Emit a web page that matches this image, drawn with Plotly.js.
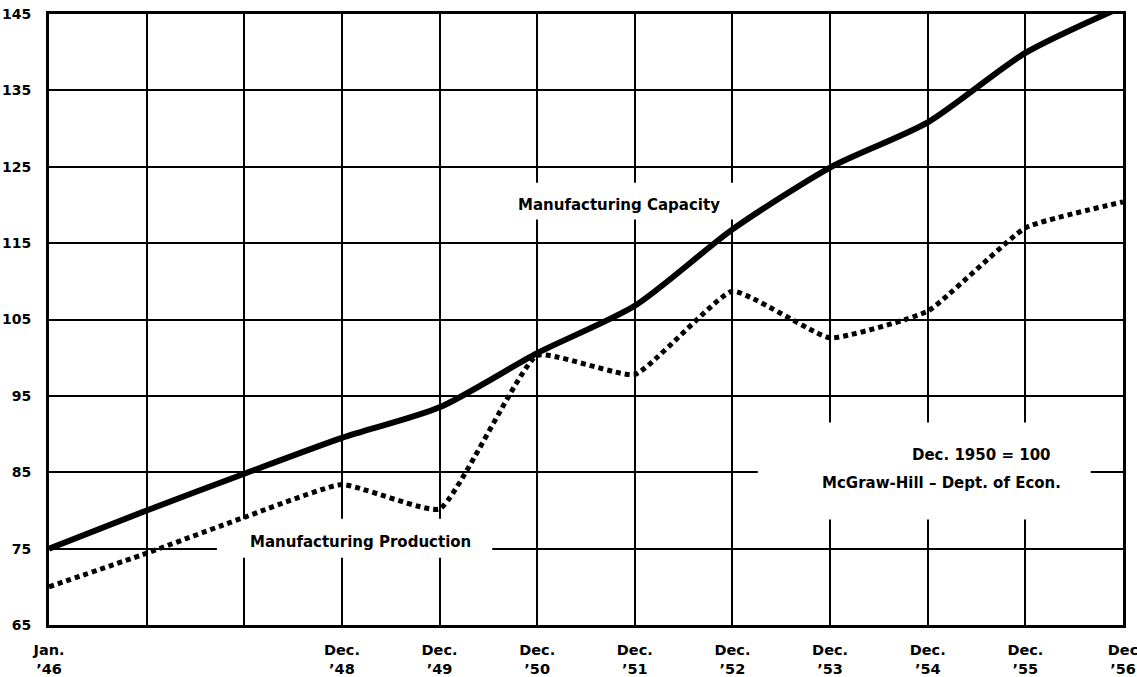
<!DOCTYPE html>
<html>
<head>
<meta charset="utf-8">
<script src="https://cdn.plot.ly/plotly-3.0.1.min.js"></script>
<style>html,body{margin:0;padding:0;background:#fff;}#chart{width:1137px;height:677px;}</style>
</head>
<body>
<div id="chart"></div>
<script>
// x positions: 0 = Jan. '46, then year-end points Dec '46 ... Dec '56
var xPos = [0, 1, 2, 3, 4, 5, 6, 7, 8, 9, 10, 11];
var capacity = [75, 80, 84.8, 89.5, 93.5, 100.6, 106.8, 116.8, 124.9, 130.8, 139.9, 146];
var production = [70, 74.4, 79.1, 83.4, 80.2, 100.3, 97.8, 108.7, 102.6, 106.1, 117, 120.4];

var tickVals = [0, 1, 2, 3, 4, 5, 6, 7, 8, 9, 10, 11];
var tickText = ["Jan.<br>\u201946", "", "", "Dec.<br>\u201948", "Dec.<br>\u201949", "Dec.<br>\u201950",
  "Dec.<br>\u201951", "Dec.<br>\u201952", "Dec.<br>\u201953", "Dec.<br>\u201954", "Dec.<br>\u201955", "Dec<br>\u201956"];
var yTicks = [65, 75, 85, 95, 105, 115, 125, 135, 145];

var labelCapacity = "Manufacturing Capacity";
var labelProduction = "Manufacturing Production";
var noteBase = "Dec. 1950 = 100";
var noteSource = "McGraw-Hill \u2013 Dept. of Econ.";

var FONT = "'DejaVu Sans', sans-serif";

var traces = [
  {x: xPos, y: capacity, type: "scatter", mode: "lines",
   line: {color: "#000", width: 6, shape: "spline", smoothing: 0.7}, hoverinfo: "skip"},
  {x: xPos, y: production, type: "scatter", mode: "lines",
   line: {color: "#000", width: 5, dash: "5px,4px", shape: "spline", smoothing: 0.4}, hoverinfo: "skip"}
];

var whiteBox = function (x0, x1, y0, y1) {
  return {type: "rect", xref: "x", yref: "y", x0: x0, x1: x1, y0: y0, y1: y1,
    fillcolor: "#fff", line: {width: 0}, layer: "between"};
};

var layout = {
  width: 1137, height: 677,
  margin: {l: 49, r: 14, t: 14, b: 52},
  paper_bgcolor: "#fff", plot_bgcolor: "#fff",
  showlegend: false,
  font: {family: FONT, color: "#000", size: 14, weight: "bold"},
  xaxis: {
    range: [0, 11], tickmode: "array", tickvals: tickVals, ticktext: tickText,
    showgrid: true, gridcolor: "#000", gridwidth: 2,
    showline: true, linecolor: "#000", linewidth: 3, mirror: true,
    zeroline: false, ticks: "", ticklabelstandoff: 10, ticklabeloverflow: "allow",
    tickfont: {family: FONT, size: 14.5, weight: "bold", color: "#000"}
  },
  yaxis: {
    range: [65, 145], tickmode: "array", tickvals: yTicks,
    showgrid: true, gridcolor: "#000", gridwidth: 2,
    showline: true, linecolor: "#000", linewidth: 3, mirror: true,
    zeroline: false, ticks: "", ticklabelstandoff: 12,
    tickfont: {family: FONT, size: 14, weight: "bold", color: "#000"}
  },
  shapes: [
    whiteBox(4.62, 7.08, 118.1, 122.9),
    whiteBox(1.72, 4.54, 73.8, 78.9),
    whiteBox(7.26, 10.67, 78.8, 91.5)
  ],
  annotations: [
    {x: 5.835, y: 120.05, xref: "x", yref: "y", text: labelCapacity, showarrow: false,
     xanchor: "center", yanchor: "middle", font: {family: FONT, size: 15, weight: "bold"}},
    {x: 3.19, y: 75.9, xref: "x", yref: "y", text: labelProduction, showarrow: false,
     xanchor: "center", yanchor: "middle", font: {family: FONT, size: 15, weight: "bold"}},
    {x: 10.28, y: 87.3, xref: "x", yref: "y", text: noteBase, showarrow: false,
     xanchor: "right", yanchor: "middle", font: {family: FONT, size: 15, weight: "bold"}},
    {x: 10.39, y: 83.6, xref: "x", yref: "y", text: noteSource, showarrow: false,
     xanchor: "right", yanchor: "middle", font: {family: FONT, size: 15, weight: "bold"}}
  ]
};

Plotly.newPlot("chart", traces, layout, {displayModeBar: false, staticPlot: true});
</script>
</body>
</html>
